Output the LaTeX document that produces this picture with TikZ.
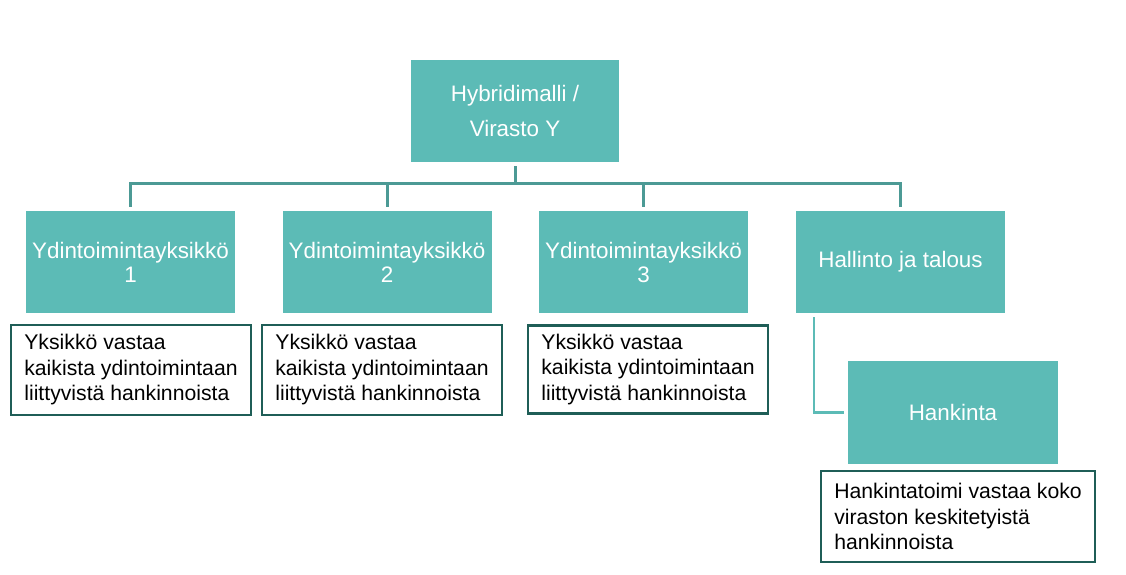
\documentclass[tikz,border=0pt]{standalone}
\usepackage{fontspec}
\setmainfont{Liberation Sans}
\begin{document}
\begin{tikzpicture}[x=1pt,y=-1pt,
  unitbox/.style={rectangle, fill=tealfill, draw=none, text=white, align=center,
    font=\fontsize{22.4}{35}\selectfont, inner sep=0pt},
  notebox/.style={rectangle, fill=white, draw=tealdark, line width=2.8pt, text=black,
    align=left, font=\fontsize{21.2}{25.5}\selectfont, inner sep=0pt},
  conn/.style={draw=tealline, line width=3pt},
  conn2/.style={draw=tealfill, line width=2.6pt}]
\definecolor{tealfill}{HTML}{5CBBB6}
\definecolor{tealline}{HTML}{4C9A95}
\definecolor{tealdark}{HTML}{1F5E57}
\fill[white] (0,0) rectangle (1126,575);
\useasboundingbox (0,0) rectangle (1126,575);

% organisation units
\node[unitbox, minimum width=208pt, minimum height=102pt] (top) at (515,111) {Hybridimalli /\\Virasto Y};
\node[unitbox, minimum width=209pt, minimum height=102pt, font=\fontsize{22.4}{24}\selectfont] (c1) at (130.5,262) {Ydintoimintayksikkö\\1};
\node[unitbox, minimum width=209pt, minimum height=102pt, font=\fontsize{22.4}{24}\selectfont] (c2) at (387,262) {Ydintoimintayksikkö\\2};
\node[unitbox, minimum width=209pt, minimum height=102pt, font=\fontsize{22.4}{24}\selectfont] (c3) at (643.5,262) {Ydintoimintayksikkö\\3};
\node[unitbox, minimum width=209pt, minimum height=102pt] (c4) at (900.5,262) {Hallinto ja talous};
\node[unitbox, minimum width=210pt, minimum height=103pt] (hank) at (953,412.5) {Hankinta};

% responsibility notes
\node[notebox, minimum width=240pt, minimum height=90pt] (t1) at (131,370) {Yksikkö vastaa\\kaikista ydintoimintaan\\liittyvistä hankinnoista};
\node[notebox, minimum width=240pt, minimum height=90pt] (t2) at (382,370) {Yksikkö vastaa\\kaikista ydintoimintaan\\liittyvistä hankinnoista};
\node[notebox, minimum width=240pt, minimum height=88pt] (t3) at (648,369.5) {Yksikkö vastaa\\kaikista ydintoimintaan\\liittyvistä hankinnoista};
\node[notebox, minimum width=274pt, minimum height=91pt] (t4) at (958,516.5) {Hankintatoimi vastaa koko\\viraston keskitetyistä\\hankinnoista};

% hierarchy connectors
\coordinate (bus) at (515,183);
\draw[conn] ([yshift=-4pt]top.south) -- (bus);
\draw[conn] ([yshift=4pt]c1.north) -- (c1.north |- bus) -- (c4.north |- bus) -- ([yshift=4pt]c4.north);
\draw[conn] ([yshift=4pt]c2.north) -- (c2.north |- bus);
\draw[conn] ([yshift=4pt]c3.north) -- (c3.north |- bus);
\draw[conn2] ([xshift=18pt,yshift=-4pt]c4.south west) |- ([xshift=-4pt]hank.west);
\end{tikzpicture}
\end{document}
